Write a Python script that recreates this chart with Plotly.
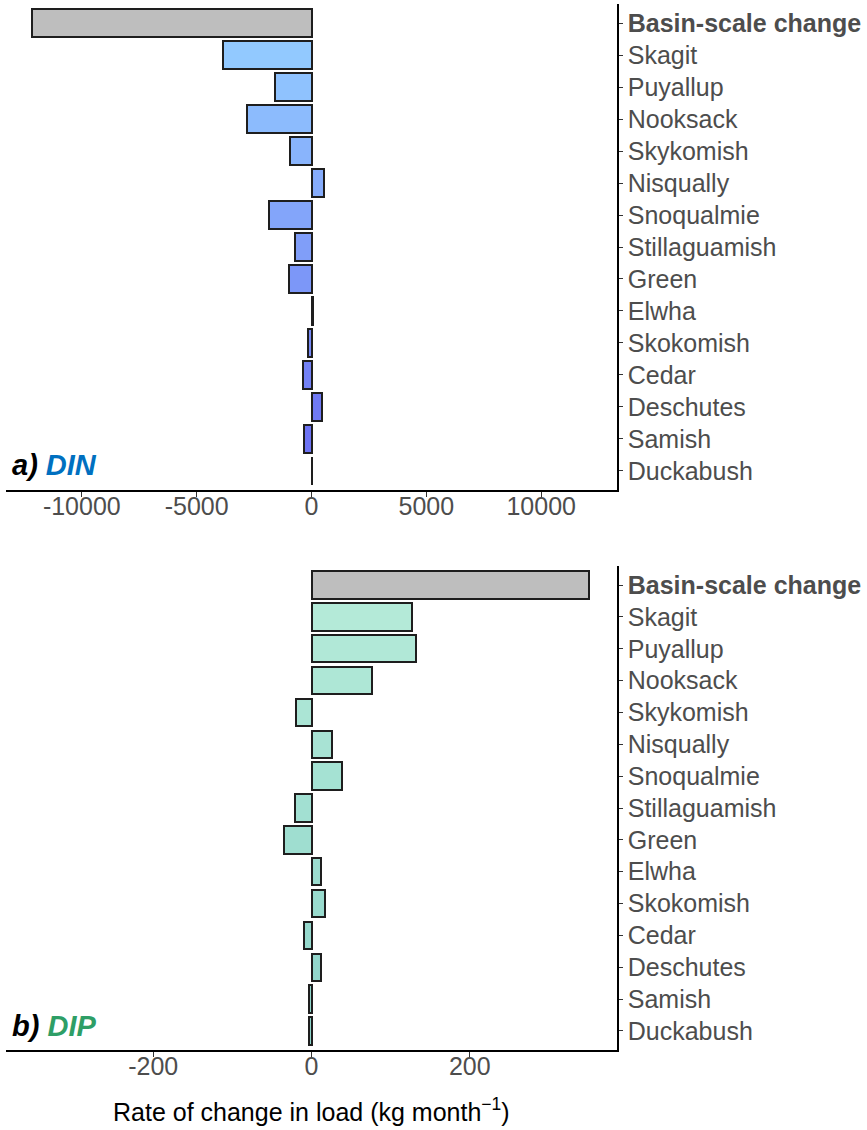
import plotly.graph_objects as go

categories = ["Basin-scale change", "Skagit", "Puyallup", "Nooksack", "Skykomish",
              "Nisqually", "Snoqualmie", "Stillaguamish", "Green", "Elwha",
              "Skokomish", "Cedar", "Deschutes", "Samish", "Duckabush"]
din = [-12170, -3845, -1586, -2826, -948, 535, -1862, -724, -1000, 60,
       -172, -362, 465, -310, 30]
dip = [351, 127.5, 131.5, 77, -19.5, 26, 38.5, -20.5, -35, 11.5,
       17, -10, 11.5, -3.5, -3.5]
din_ticks = [-10000, -5000, 0, 5000, 10000]
dip_ticks = [-200, 0, 200]
cat_labels = ["<b>Basin-scale change</b>"] + categories[1:]

W, H = 867, 1130
FONT = "Liberation Sans, Arial, sans-serif"
GRAY = "#bebebe"


def hex2rgb(h):
    h = h.lstrip("#")
    return tuple(int(h[i:i + 2], 16) for i in (0, 2, 4))


def grad(c1, c2, n):
    a, b = hex2rgb(c1), hex2rgb(c2)
    out = []
    for i in range(n):
        t = i / (n - 1)
        out.append("rgb(%d,%d,%d)" % tuple(round(a[k] + (b[k] - a[k]) * t) for k in range(3)))
    return out


din_colors = [GRAY] + grad("#92c9ff", "#6a6cf2", len(categories) - 1)
dip_colors = [GRAY] + grad("#b4ead8", "#8dd4ca", len(categories) - 1)

fig = go.Figure()
fig.add_trace(go.Bar(x=din, y=categories, orientation="h", width=0.86,
                     marker=dict(color=din_colors, line=dict(color="#1e1e1e", width=2)),
                     xaxis="x", yaxis="y", showlegend=False))
fig.add_trace(go.Bar(x=dip, y=categories, orientation="h", width=0.86,
                     marker=dict(color=dip_colors, line=dict(color="#1e1e1e", width=2)),
                     xaxis="x2", yaxis="y2", showlegend=False))

xl, xr = 6 / W, 617 / W
tickfont = dict(family=FONT, size=25, color="#4d4d4d")
axcommon = dict(showline=True, linecolor="black", linewidth=1.5, ticks="outside",
                tickcolor="#333333", showgrid=False, zeroline=False, tickfont=tickfont,
                automargin=False)

fig.update_layout(
    width=W, height=H, margin=dict(l=0, r=0, t=0, b=0),
    paper_bgcolor="white", plot_bgcolor="white", bargap=0,
    xaxis=dict(domain=[xl, xr], anchor="y", range=[-13300, 13300],
               tickvals=din_ticks, ticktext=[str(v) for v in din_ticks], ticklen=5,
               ticklabelstandoff=-12, **axcommon),
    yaxis=dict(domain=[1 - 490 / H, 1 - 4 / H], anchor="x", side="right", type="category",
               range=[14.6, -0.6], tickvals=categories, ticktext=cat_labels, ticklen=4,
               **axcommon),
    xaxis2=dict(domain=[xl, xr], anchor="y2", range=[-386, 386],
                tickvals=dip_ticks, ticktext=[str(v) for v in dip_ticks], ticklen=5,
                ticklabelstandoff=-12, **axcommon),
    yaxis2=dict(domain=[1 - 1050 / H, 1 - 566 / H], anchor="x2", side="right", type="category",
                range=[14.6, -0.6], tickvals=categories, ticktext=cat_labels, ticklen=4,
                **axcommon),
    annotations=[
        dict(text="<b><i>a) <span style='color:#0070c0'>DIN</span></i></b>",
             xref="paper", yref="paper", x=10 / W, y=1 - 465 / H, xanchor="left", yanchor="middle",
             showarrow=False, font=dict(family=FONT, size=29, color="black")),
        dict(text="<b><i>b) <span style='color:#2e9e66'>DIP</span></i></b>",
             xref="paper", yref="paper", x=10 / W, y=1 - 1026 / H, xanchor="left", yanchor="middle",
             showarrow=False, font=dict(family=FONT, size=29, color="black")),
        dict(text="Rate of change in load (kg month<sup>\u22121</sup>)",
             xref="paper", yref="paper", x=311.5 / W, y=1 - 1110 / H, xanchor="center",
             yanchor="middle", showarrow=False, font=dict(family=FONT, size=25, color="black")),
    ],
)

fig.write_html("out.html")
